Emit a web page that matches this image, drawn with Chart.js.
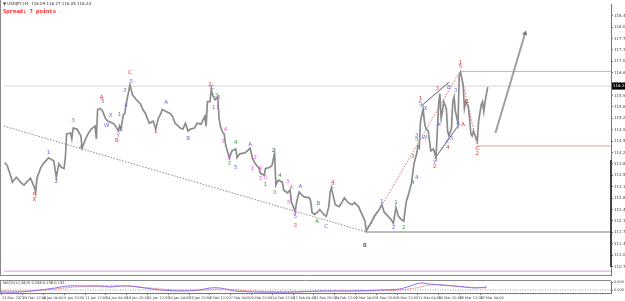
<!DOCTYPE html>
<html>
<head>
<meta charset="utf-8">
<script src="https://cdn.jsdelivr.net/npm/chart.js@4.4.1/dist/chart.umd.min.js"></script>
<style>
  body { margin: 0; background: #fff; width: 625px; height: 301px; overflow: hidden; position: relative; font-family: 'DejaVu Sans', sans-serif; }
  #main { position: absolute; left: 0; top: 0; }
  #macd { position: absolute; left: 0; top: 279px; }
  .cap { position: absolute; left: 3px; white-space: nowrap; line-height: 1; }
  #title { top: 2px; font-size: 4px; color: #333; }
  #spread { top: 8px; font: bold 5.5px 'DejaVu Sans Mono', monospace; color: #ff2020; }
  #macdCap { top: 282px; font-size: 3.6px; color: #333; }
</style>
</head>
<body>
<canvas id="main" width="625" height="279"></canvas>
<canvas id="macd" width="625" height="22"></canvas>
<div id="title" class="cap">&#9660; USDJPY,H4&nbsp; 116.09 116.27 116.05 116.24</div>
<div id="spread" class="cap">Spread: 7 points</div>
<div id="macdCap" class="cap">MACD(12,26,9) 0.268 0.136 0.132</div>
<script>
// H4 bar number (0 = 23 Dec 2021) and price
const barIdx = [-1, 1, 4, 5, 8, 12, 14, 16, 19, 22, 23, 24, 27, 29, 33, 37, 39, 41, 43, 45, 46, 47, 50, 51, 52, 55, 58, 59, 62, 64, 66, 69, 70, 71, 73, 75, 77, 79, 83, 85, 87, 88, 89, 91, 92, 93, 96, 98, 101, 104, 106, 108, 111, 114, 116, 118, 120, 121, 124, 127, 129, 131, 135, 137, 139, 141, 143, 146, 148, 151, 154, 155, 156, 158, 159,
  160, 162, 164, 165, 166, 168, 169, 170, 171, 173, 175, 178, 179, 181, 185, 187, 189, 191, 193, 196, 197, 200, 201, 204, 206, 208, 209, 210, 211, 214, 215, 218, 220, 221, 224, 225, 227, 229, 231, 235, 236, 237, 239, 241, 243, 246, 248, 250, 251, 252, 255, 258, 260, 262, 265, 268, 270, 273, 275, 278, 279, 281, 283, 285, 289, 291,
  293, 296, 298, 300, 302, 304, 306, 308, 309, 310, 312, 314, 316, 318, 319, 320, 321, 323, 324, 325, 327, 328, 329, 331, 333, 335, 336, 337, 338, 339, 341, 342, 343, 345, 346, 347, 348, 350, 351, 352, 354, 355, 356, 358, 359, 360, 361, 362, 364, 365, 366, 368, 369, 370, 371, 373];
const closes = [113.89, 113.80, 113.44, 113.29, 113.44, 113.26, 113.20, 113.29, 113.41, 113.14, 112.96, 113.41, 113.74, 113.86, 114.04, 113.95, 113.44, 113.86, 113.74, 113.71, 114.04, 114.77, 114.80, 114.62, 114.95, 114.92, 114.71, 114.34, 114.65, 114.80, 114.92, 115.01, 114.62, 115.52, 115.55, 115.46, 115.25, 115.16, 115.10, 115.01, 114.86, 115.01, 114.92, 115.37, 115.40, 115.67, 116.27, 115.97, 115.82, 115.70, 115.52, 115.40, 115.10, 115.16, 114.92, 115.25, 115.40, 115.52, 115.46, 115.40, 115.31, 115.10, 114.95, 114.92, 115.10, 114.86, 114.92, 114.95, 115.10, 115.07, 115.31, 115.01, 115.76, 115.76, 116.15,
  115.97, 115.82, 115.91, 115.25, 115.01, 114.80, 114.77, 114.46, 114.31, 114.04, 114.25, 114.31, 114.04, 114.16, 114.19, 114.25, 114.34, 114.01, 113.86, 113.71, 113.56, 113.50, 113.71, 113.74, 113.80, 114.19, 113.20, 113.29, 113.35, 113.29, 113.05, 112.96, 113.05, 112.69, 112.39, 112.66, 112.99, 112.90, 112.84, 112.81, 112.69, 112.36, 112.30, 112.36, 112.45, 112.30, 112.24, 112.54, 112.99, 113.11, 112.60, 112.54, 112.66, 112.81, 112.66, 112.60, 112.66, 112.54, 112.36, 112.09, 111.79, 111.94, 112.06, 112.24, 112.45, 112.60,
  112.36, 112.24, 112.15, 112.03, 112.51, 112.24, 112.15, 112.09, 112.39, 112.69, 112.96, 113.26, 113.86, 114.16, 114.40, 114.34, 115.16, 115.55, 115.16, 114.95, 114.86, 114.55, 114.25, 114.31, 114.04, 115.67, 116.00, 115.25, 115.46, 115.76, 115.55, 114.86, 114.71, 114.95, 115.76, 115.91, 115.46, 115.10, 116.57, 116.66, 116.27, 115.55, 115.76, 115.61, 115.25, 114.77, 114.71, 114.86, 114.65, 114.55, 115.16, 115.67, 115.76, 115.46, 115.76, 116.21];

const priceTicks = [110.70, 111.05, 111.40, 111.75, 112.10, 112.45, 112.80, 113.15, 113.50, 113.85, 114.20, 114.55, 114.90, 115.25, 115.60, 115.95, 116.30, 116.65, 117.00, 117.35, 117.70, 118.05, 118.40];
const dateTickBars = [0, 16, 32, 48, 64, 80, 96, 112, 128, 144, 160, 176, 192, 208, 224, 240, 256, 272, 288, 304, 320, 336, 352, 368];
const dateLabels = ['23 Dec 2021', '29 Dec 12:00', '4 Jan 04:00', '6 Jan 20:00', '11 Jan 12:00', '14 Jan 04:00', '18 Jan 20:00', '21 Jan 12:00',
  '26 Jan 04:00', '28 Jan 20:00', '2 Feb 12:00', '7 Feb 04:00', '9 Feb 20:00', '14 Feb 12:00', '17 Feb 04:00', '21 Feb 20:00',
  '24 Feb 12:00', '1 Mar 04:00', '3 Mar 20:00', '8 Mar 12:00', '11 Mar 04:00', '15 Mar 20:00', '18 Mar 12:00', '23 Mar 04:00'];

// levels and drawn objects
const bidPrice = 116.24;
const purpleLevel = 110.56;
const redLevels = [[352, 116.69], [365, 114.40]];
const grayLevel = [279, 111.76];
const trendLine = [[-1.5, 115.01], [279, 111.76]];
const redDotted = [[[279, 111.76], [352, 116.72]], [[352, 116.66], [365, 114.40]]];
const channelLines = [[[321, 115.61], [343, 116.36]], [[332, 114.01], [351, 115.07]]];
const arrowLine = [[379, 114.80], [402, 117.86]];

// MACD window
const macdBars = [-1, 14, 29, 41, 50, 64, 75, 83, 91, 98, 110, 122, 137, 152, 160, 168, 179, 198, 222, 245, 268, 291, 306, 314, 322, 329, 337, 348, 356, 364, 373];
const macdVals = [-0.16, -0.16, 0.00, 0.16, 0.32, 0.32, 0.32, 0.24, 0.32, 0.32, 0.16, 0.00, -0.08, 0.00, 0.16, 0.16, -0.08, -0.16, -0.16, -0.08, -0.08, 0.00, 0.08, 0.32, 0.56, 0.48, 0.40, 0.32, 0.24, 0.16, 0.24];
const signalBars = [-1, 22, 41, 56, 75, 95, 114, 133, 156, 171, 191, 222, 252, 283, 306, 318, 329, 341, 356, 373];
const signalVals = [-0.08, -0.08, 0.08, 0.24, 0.32, 0.32, 0.16, 0.00, 0.00, 0.08, -0.08, -0.16, -0.08, -0.08, 0.00, 0.16, 0.40, 0.40, 0.24, 0.16];
const macdTicks = [0.60, 0.00];

// wave counts: [bar, price, text, colour]
const waveLabels = [
  [22, 112.93, 'o', 'r'], [22, 112.75, 'X', 'r'],
  [33, 114.19, '1', 'b'], [39, 113.32, '2', 'b'], [52, 115.19, '3', 'b'], [58, 114.34, '4', 'b'],
  [74, 115.88, 'A', 'r'], [75, 115.76, '5', 'b'], [78, 115.04, 'W', 'b'], [81, 115.34, 'X', 'b'],
  [87, 114.71, 'Y', 'b'], [86, 114.58, 'B', 'r'], [89, 114.89, 'Z', 'b'], [88, 115.37, '1', 'b'],
  [92, 116.09, '3', 'b'], [93, 115.64, '4', 'b'], [97, 116.39, '5', 'b'], [96, 116.66, 'C', 'r'],
  [116, 114.83, '1', 'r'], [124, 115.73, 'A', 'b'], [141, 114.62, 'B', 'b'],
  [158, 116.30, '2', 'r'], [160, 116.18, 'C', 'b'], [163, 115.94, '3', 'g'], [165, 115.88, '3', 'p'],
  [161, 115.58, '1', 'g'], [164, 115.58, '1', 'p'], [170, 114.89, '4', 'p'], [168, 114.55, '3', 'p'],
  [173, 114.01, '5', 'p'], [173, 113.86, '3', 'g'], [178, 114.52, '4', 'g'], [178, 113.74, '5', 'b'],
  [189, 114.43, 'A', 'b'], [191, 113.71, '1', 'p'], [193, 114.04, '2', 'p'], [197, 113.71, '4', 'p'],
  [197, 113.41, '3', 'p'], [201, 113.44, '5', 'p'], [201, 113.23, '1', 'g'], [207, 114.25, '2', 'g'],
  [208, 112.96, '3', 'g'], [212, 113.50, '4', 'g'], [218, 113.32, '3', 'p'], [221, 113.11, '4', 'p'],
  [219, 112.66, '5', 'p'], [224, 112.36, '5', 'p'], [224, 112.24, '5', 'b'], [224, 111.97, '3', 'r'],
  [228, 113.14, 'A', 'b'], [242, 112.63, 'B', 'g'], [241, 112.09, 'A', 'g'], [248, 111.94, 'C', 'b'],
  [253, 113.29, '4', 'r'], [253, 113.14, 'C', 'b'], [278, 111.34, 'B', 'k'],
  [291, 112.69, '1', 'b'], [302, 112.66, '1', 'g'], [300, 111.89, '2', 'b'], [308, 111.89, '2', 'g'],
  [315, 113.29, '4', 'g'], [315, 114.07, '3', 'g'], [318, 113.44, '4', 'b'], [318, 114.71, '3', 'b'],
  [318, 114.60, '5', 'g'], [324, 114.65, 'W', 'b'], [321, 115.85, '1', 'r'], [321, 115.70, '5', 'b'],
  [325, 115.55, 'X', 'b'], [334, 116.15, '3', 'r'], [335, 115.07, 'A', 'b'], [343, 116.18, 'B', 'b'],
  [332, 113.89, 'Y', 'b'], [332, 113.77, '2', 'r'], [342, 114.34, '4', 'r'], [342, 114.55, 'C', 'b'],
  [345, 114.62, '3', 'b'], [348, 116.09, '3', 'b'], [350, 115.10, '4', 'b'], [354, 115.07, 'A', 'r'],
  [352, 116.96, '1', 'r'], [352, 116.84, '5', 'r'], [357, 115.76, 'B', 'r'],
  [365, 114.31, 'C', 'r'], [365, 114.16, '2', 'r']
];
const WAVE_COLORS = { r: '#f03434', b: '#6464f0', p: '#f048e8', g: '#3c9a3c', k: '#222222' };

const xMin = -1.5, xMax = 468.5;
const yMin = 110.44, yMax = 118.76;

const pts = (xs, ys) => xs.map((x, i) => ({ x, y: ys[i] }));
const seg = (a, b) => [{ x: a[0], y: a[1] }, { x: b[0], y: b[1] }];
const flat = (x0, v) => [{ x: x0, y: v }, { x: xMax, y: v }];

const plain = { pointRadius: 0, fill: false, tension: 0 };

const waveLabelPlugin = {
  id: 'waveLabels',
  afterDatasetsDraw(chart) {
    const { ctx, scales: { x, y } } = chart;
    ctx.save();
    ctx.font = '5.5px "DejaVu Sans"';
    ctx.textAlign = 'center';
    ctx.textBaseline = 'middle';
    waveLabels.forEach(([bar, price, txt, c]) => {
      ctx.fillStyle = WAVE_COLORS[c];
      ctx.fillText(txt, x.getPixelForValue(bar), y.getPixelForValue(price));
    });
    ctx.restore();
  }
};

const framePlugin = {
  id: 'frame',
  afterDraw(chart) {
    const { ctx, chartArea: a, scales: { y } } = chart;
    ctx.save();
    ctx.strokeStyle = '#8a8a8a';
    ctx.lineWidth = 1;
    ctx.beginPath();
    ctx.moveTo(0.5, 0); ctx.lineTo(0.5, a.bottom);
    ctx.moveTo(0, a.bottom + 0.5); ctx.lineTo(a.right, a.bottom + 0.5);
    ctx.stroke();
    ctx.strokeStyle = '#444';
    ctx.lineWidth = 2;
    ctx.beginPath();
    ctx.moveTo(a.right, 160); ctx.lineTo(a.right, 267);
    ctx.stroke();
    // current price box
    const py = y.getPixelForValue(bidPrice);
    ctx.fillStyle = '#000';
    ctx.fillRect(a.right + 1, py - 3.5, 14, 7);
    ctx.fillStyle = '#fff';
    ctx.font = '4px "DejaVu Sans"';
    ctx.textBaseline = 'middle';
    ctx.fillText(bidPrice.toFixed(2), a.right + 2, py);
    ctx.restore();
  }
};

new Chart(document.getElementById('main'), {
  type: 'line',
  data: {
    datasets: [
      { data: pts(barIdx, closes), borderColor: '#8c8c8c', borderWidth: 1.7, ...plain },
      { data: seg(arrowLine[0], arrowLine[1]), borderColor: '#9f9f9f', borderWidth: 2,
        pointRadius: [0, 3], pointStyle: 'triangle', rotation: 16, pointBackgroundColor: '#777', pointBorderWidth: 0, fill: false },
      { data: seg(channelLines[0][0], channelLines[0][1]), borderColor: '#333', borderWidth: 0.8, ...plain },
      { data: seg(channelLines[1][0], channelLines[1][1]), borderColor: '#333', borderWidth: 0.8, ...plain },
      { data: seg(redDotted[0][0], redDotted[0][1]), borderColor: '#e46c6c', borderWidth: 1, borderDash: [1.5, 1.5], ...plain },
      { data: seg(redDotted[1][0], redDotted[1][1]), borderColor: '#e46c6c', borderWidth: 1, borderDash: [1.5, 1.5], ...plain },
      { data: seg(trendLine[0], trendLine[1]), borderColor: '#888', borderWidth: 1, borderDash: [1.5, 1.5], ...plain },
      { data: flat(redLevels[0][0], redLevels[0][1]), borderColor: '#e4a4a4', borderWidth: 1, ...plain },
      { data: flat(redLevels[1][0], redLevels[1][1]), borderColor: '#e4a4a4', borderWidth: 1, ...plain },
      { data: flat(grayLevel[0], grayLevel[1]), borderColor: '#7a7a7a', borderWidth: 1, ...plain },
      { data: flat(xMin, bidPrice), borderColor: '#d6d6d6', borderWidth: 1, ...plain },
      { data: flat(xMin, purpleLevel), borderColor: '#c8a0d8', borderWidth: 1, ...plain }
    ]
  },
  options: {
    responsive: false,
    animation: false,
    layout: { padding: 0 },
    plugins: { legend: { display: false }, tooltip: { enabled: false } },
    scales: {
      x: { type: 'linear', min: xMin, max: xMax, display: false },
      y: {
        position: 'right', min: yMin, max: yMax,
        afterBuildTicks: s => { s.ticks = priceTicks.map(v => ({ value: v })); },
        afterFit: s => { s.width = 14; s.paddingTop = 0; s.paddingBottom = 0; },
        grid: { drawOnChartArea: false, tickLength: 2, color: '#777' },
        border: { color: '#777' },
        ticks: { color: '#444', font: { size: 4, family: 'DejaVu Sans' }, padding: 1, autoSkip: false,
          callback: v => v.toFixed(2) }
      }
    }
  },
  plugins: [waveLabelPlugin, framePlugin]
});

new Chart(document.getElementById('macd'), {
  type: 'line',
  data: {
    datasets: [
      { data: pts(macdBars, macdVals), borderColor: '#8a6cf0', borderWidth: 1, pointRadius: 0, tension: 0.3 },
      { data: pts(signalBars, signalVals), borderColor: '#f07070', borderWidth: 1, borderDash: [1.5, 1], pointRadius: 0, tension: 0.3 },
      { data: flat(xMin, 0), borderColor: '#999', borderWidth: 1, borderDash: [1, 1.5], ...plain }
    ]
  },
  options: {
    responsive: false,
    animation: false,
    layout: { padding: { top: 2 } },
    plugins: { legend: { display: false }, tooltip: { enabled: false } },
    scales: {
      x: {
        type: 'linear', min: xMin, max: xMax,
        afterBuildTicks: s => { s.ticks = dateTickBars.map(v => ({ value: v })); },
        afterFit: s => { s.height = 8; s.paddingLeft = 0; s.paddingRight = 0; },
        grid: { drawOnChartArea: false, tickLength: 2, color: '#777' },
        border: { color: '#777' },
        ticks: { align: 'start', maxRotation: 0, autoSkip: false, padding: 1, color: '#444',
          font: { size: 3.5, family: 'DejaVu Sans' }, callback: (v, i) => dateLabels[i] }
      },
      y: {
        position: 'right', min: -0.24, max: 0.72,
        afterBuildTicks: s => { s.ticks = macdTicks.map(v => ({ value: v })); },
        afterFit: s => { s.width = 14; s.paddingTop = 0; s.paddingBottom = 0; },
        grid: { drawOnChartArea: false, tickLength: 2, color: '#777' },
        border: { color: '#777' },
        ticks: { color: '#444', font: { size: 3.5, family: 'DejaVu Sans' }, padding: 1, autoSkip: false,
          callback: v => v.toFixed(3) }
      }
    }
  },
  plugins: [{
    id: 'macdFrame',
    afterDraw(chart) {
      const { ctx, chartArea: a } = chart;
      ctx.save();
      ctx.strokeStyle = '#8a8a8a';
      ctx.beginPath();
      ctx.moveTo(0, a.top - 0.5); ctx.lineTo(a.right, a.top - 0.5);
      ctx.moveTo(0.5, a.top); ctx.lineTo(0.5, a.bottom);
      ctx.stroke();
      ctx.restore();
    }
  }]
});
</script>
</body>
</html>
